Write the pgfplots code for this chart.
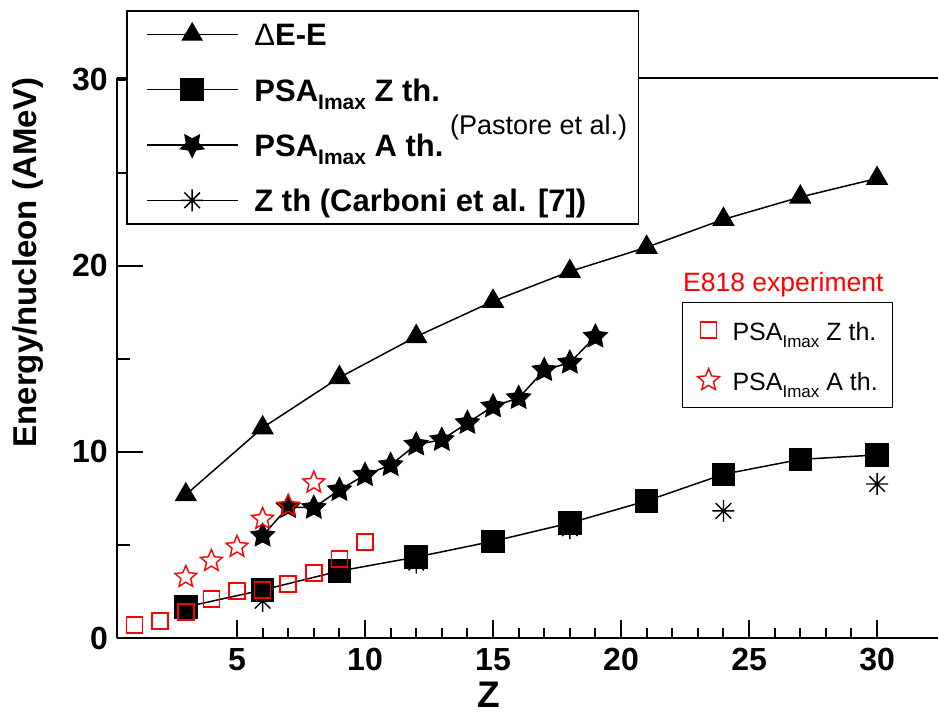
\documentclass[border=0pt]{standalone}
\usepackage{pgfplots}
\pgfplotsset{compat=1.18}
\usepackage{fontspec}
\setmainfont{Liberation Sans}
\usetikzlibrary{plotmarks}

\newcommand{\starpath}[1]{%
 \pgfpathmoveto{\pgfpointpolar{90}{\pgfplotmarksize}}%
 \pgfpathlineto{\pgfpointpolar{126}{#1\pgfplotmarksize}}%
 \pgfpathlineto{\pgfpointpolar{162}{\pgfplotmarksize}}%
 \pgfpathlineto{\pgfpointpolar{198}{#1\pgfplotmarksize}}%
 \pgfpathlineto{\pgfpointpolar{234}{\pgfplotmarksize}}%
 \pgfpathlineto{\pgfpointpolar{270}{#1\pgfplotmarksize}}%
 \pgfpathlineto{\pgfpointpolar{306}{\pgfplotmarksize}}%
 \pgfpathlineto{\pgfpointpolar{342}{#1\pgfplotmarksize}}%
 \pgfpathlineto{\pgfpointpolar{18}{\pgfplotmarksize}}%
 \pgfpathlineto{\pgfpointpolar{54}{#1\pgfplotmarksize}}%
 \pgfpathclose}
\pgfdeclareplotmark{fstar}{\starpath{0.5}\pgfusepathqfillstroke}
\pgfdeclareplotmark{ostar}{\starpath{0.45}\pgfusepathqstroke}
\pgfdeclareplotmark{ast8}{%
 \pgfpathmoveto{\pgfqpoint{-\pgfplotmarksize}{0pt}}\pgfpathlineto{\pgfqpoint{\pgfplotmarksize}{0pt}}%
 \pgfpathmoveto{\pgfqpoint{0pt}{-\pgfplotmarksize}}\pgfpathlineto{\pgfqpoint{0pt}{\pgfplotmarksize}}%
 \pgfpathmoveto{\pgfpointpolar{45}{\pgfplotmarksize}}\pgfpathlineto{\pgfpointpolar{225}{\pgfplotmarksize}}%
 \pgfpathmoveto{\pgfpointpolar{135}{\pgfplotmarksize}}\pgfpathlineto{\pgfpointpolar{315}{\pgfplotmarksize}}%
 \pgfusepathqstroke}

\newcommand{\imaxb}{\raisebox{-8pt}{\fontsize{21}{21}\selectfont Imax}}
\newcommand{\imaxr}{\raisebox{-7pt}{\fontsize{17}{17}\selectfont Imax}}

\pgfplotsset{
 common/.style={scale only axis, width=821pt, height=560pt,
  xmin=0.3125, xmax=32.38, ymin=0, ymax=30.1},
}

\begin{document}
\begin{tikzpicture}
\begin{axis}[name=ax, common,
 axis x line*=bottom, axis y line*=left,
 axis line style={line width=2.6pt, black},
 tick align=inside,
 xtick={5,10,...,30}, minor x tick num=4,
 ytick={0,10,20,30}, minor y tick num=1,
 major tick length=26pt, minor tick length=13pt,
 xtick style={/pgfplots/major tick length=18pt,/pgfplots/minor tick length=10pt},
 tick style={line width=2pt, black},
 /pgf/number format/assume math mode=true,
 ticklabel style={font=\fontsize{32}{32}\selectfont\bfseries},
 yticklabel style={anchor=east, inner sep=0pt, xshift=-9pt},
 xticklabel style={anchor=north, inner sep=0pt, yshift=-10pt},
 xlabel={Z},
 xlabel style={font=\fontsize{37}{37}\selectfont\bfseries, at={(axis description cs:0.453,-0.0777)}, anchor=north, inner sep=0pt},
 ylabel={Energy/nucleon (AMeV)},
 ylabel style={font=\fontsize{33}{33}\selectfont\bfseries, at={(axis description cs:-0.1084,0.671)}, anchor=center, inner sep=0pt},
 legend cell align=left,
 legend style={at={(axis description cs:0.011,1.1214)}, anchor=north west,
  draw=black, line width=1.8pt, fill=white,
  inner xsep=19pt, inner ysep=8pt, row sep=24.3pt, column sep=16pt,
  nodes={inner sep=0pt, text height=27pt, text depth=4pt, font=\fontsize{31}{31}\selectfont\bfseries}},
 legend image code/.code={\draw[mark repeat=2,mark phase=2,#1] plot coordinates {(0pt,0pt) (45.5pt,0pt) (91pt,0pt)};},
]
\draw[line width=2pt] (rel axis cs:0,1) -- (rel axis cs:1,1);

% Z th (Carboni et al.)
\addplot[forget plot, only marks, black, line width=1.4pt, mark=ast8, mark size=11pt]
 coordinates {(6,2.0) (12,4.05) (18,5.9) (24,6.83) (30,8.28)};
% Delta E - E
\addplot[forget plot, black, line width=1.5pt, mark=triangle*, mark size=11.5pt, mark options={solid, fill=black}]
 coordinates {(3,7.7) (6,11.3) (9,14.0) (12,16.2) (15,18.1) (18,19.7) (21,21.0) (24,22.5) (27,23.7) (30,24.7)};
% PSA Imax Z th
\addplot[forget plot, black, line width=1.5pt, mark=square*, mark size=11pt, mark options={solid, fill=black}]
 coordinates {(3,1.67) (6,2.58) (9,3.6) (12,4.35) (15,5.2) (18,6.18) (21,7.37) (24,8.8) (27,9.6) (30,9.84)};
% PSA Imax A th
\addplot[forget plot, black, line width=1.5pt, mark=fstar, mark size=12.5pt, mark options={solid, fill=black, line width=1pt}]
 coordinates {(6,5.5) (7,7.04) (8,7.0) (9,7.96) (10,8.76) (11,9.3) (12,10.4) (13,10.65) (14,11.56) (15,12.45) (16,12.9) (17,14.4) (18,14.8) (19,16.2)};

\addlegendimage{black, line width=1.5pt, mark=triangle*, mark size=11pt, mark options={solid, fill=black}}
\addlegendentry{\makebox[365pt][l]{{\mdseries Δ}E-E}}
\addlegendimage{black, line width=1.5pt, mark=square*, mark size=11pt, mark options={solid, fill=black}}
\addlegendentry{PSA\imaxb{} Z th.}
\addlegendimage{black, line width=1.5pt, mark=fstar, mark size=12.5pt, mark options={solid, fill=black, line width=1pt, rotate=180}}
\addlegendentry{PSA\imaxb{} A th.}
\addlegendimage{black, line width=1.5pt, mark=ast8, mark size=11pt}
\addlegendentry{Z th (Carboni et al. [7])}
\end{axis}

\begin{axis}[common, hide axis,
 legend cell align=left,
 legend style={at={(axis description cs:0.6882,0.6)}, anchor=north west,
  draw=black, line width=1.3pt, fill=white,
  inner xsep=15pt, inner ysep=12pt, row sep=19pt, column sep=13pt,
  nodes={inner sep=0pt, text height=26pt, text depth=5pt, font=\fontsize{25}{25}\selectfont}},
 legend image code/.code={\draw[#1] plot coordinates {(0pt,0pt)};},
]
\addplot[only marks, red, line width=1.5pt, mark=square, mark size=8pt]
 coordinates {(1,0.70) (2,0.91) (3,1.40) (4,2.1) (5,2.53) (6,2.58) (7,2.9) (8,3.5) (9,4.25) (10,5.16)};
\addlegendentry{\makebox[138pt][l]{PSA\imaxr{} Z th.}}
\addplot[only marks, red, line width=1.4pt, mark=ostar, mark size=11.5pt, mark options={fill=none}]
 coordinates {(3,3.28) (4,4.14) (5,4.9) (6,6.4) (7,7.1) (8,8.35)};
\addlegendentry{PSA\imaxr{} A th.}
\end{axis}

\node[anchor=base west, inner sep=0pt, font=\fontsize{27}{27}\selectfont] at ([xshift=333pt,yshift=503pt]ax.south west) {(Pastore et al.)};
\node[anchor=base west, inner sep=0pt, text=red, font=\fontsize{26.5}{26.5}\selectfont] at ([xshift=566pt,yshift=346pt]ax.south west) {E818 experiment};

\pgfresetboundingbox
\path ([xshift=-117pt,yshift=-78pt]ax.south west) rectangle ([xshift=821pt,yshift=638pt]ax.south west);
\end{tikzpicture}
\end{document}
